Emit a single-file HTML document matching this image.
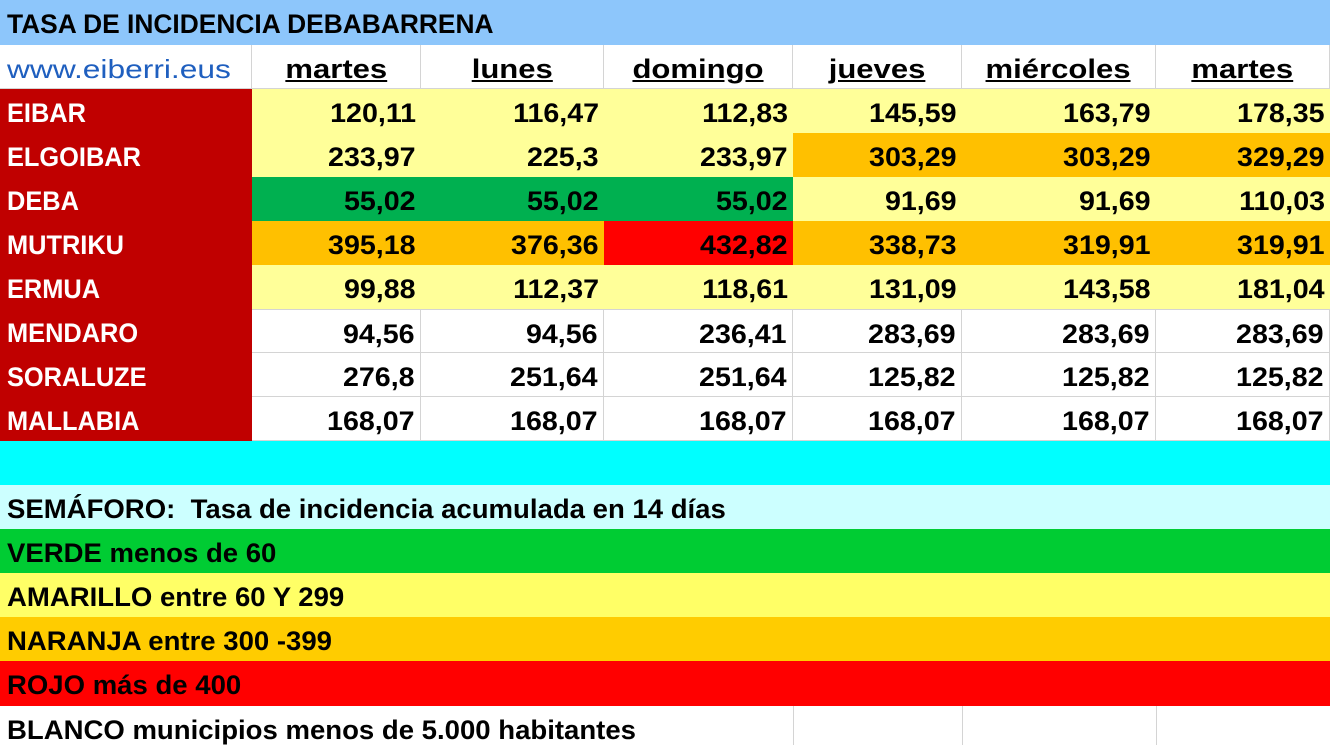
<!DOCTYPE html><html><head><meta charset="utf-8"><style>
body{margin:0;width:1330px;height:745px;overflow:hidden;background:#fff;font-family:"Liberation Sans",sans-serif;font-weight:bold;color:#000}
.c{position:absolute;height:44px;line-height:48px;box-sizing:border-box;font-size:27px;white-space:nowrap}
.r{text-align:right;padding-right:5px}
.r span{display:inline-block;transform:scaleX(1.06);transform-origin:right center}
.l{padding-left:7px}
.l span{display:inline-block;transform:scaleX(.94);transform-origin:left center}
.lg span{transform:scaleX(1.02)}
.m{text-align:center}
.m span{display:inline-block;transform:scaleX(1.15);text-decoration:underline}
.g{border-right:1px solid #d4d4d4;border-bottom:1px solid #d4d4d4}
.n{color:#fff}
</style></head><body>
<div class="c l" style="left:0;top:0;width:1330px;height:45px;line-height:48px;background:#8dc6fb"><span style="transform:scaleX(.976)">TASA DE INCIDENCIA DEBABARRENA</span></div>
<div class="c g" style="left:0;top:45px;width:252px;padding-left:7px;font-weight:normal;color:#1f5fbf;text-decoration:underline;font-size:26px"><span style="display:inline-block;transform:scaleX(1.22);transform-origin:left">www.eiberri.eus</span></div>
<div class="c g m" style="left:252px;top:45px;width:169px"><span>martes</span></div>
<div class="c g m" style="left:421px;top:45px;width:183px"><span>lunes</span></div>
<div class="c g m" style="left:604px;top:45px;width:189px"><span>domingo</span></div>
<div class="c g m" style="left:793px;top:45px;width:169px"><span>jueves</span></div>
<div class="c g m" style="left:962px;top:45px;width:194px"><span>miércoles</span></div>
<div class="c g m" style="left:1156px;top:45px;width:174px"><span>martes</span></div>
<div style="position:absolute;left:0;top:89px;width:252px;height:352px;background:#c00000"></div>
<div class="c l n" style="left:0;top:89px"><span>EIBAR</span></div>
<div class="c l n" style="left:0;top:133px"><span>ELGOIBAR</span></div>
<div class="c l n" style="left:0;top:177px"><span>DEBA</span></div>
<div class="c l n" style="left:0;top:221px"><span>MUTRIKU</span></div>
<div class="c l n" style="left:0;top:265px"><span>ERMUA</span></div>
<div class="c l n" style="left:0;top:309px"><span>MENDARO</span></div>
<div class="c l n" style="left:0;top:353px"><span>SORALUZE</span></div>
<div class="c l n" style="left:0;top:397px"><span>MALLABIA</span></div>
<div class="c r" style="left:252px;top:89px;width:169px;background:#ffff99"><span>120,11</span></div>
<div class="c r" style="left:421px;top:89px;width:183px;background:#ffff99"><span>116,47</span></div>
<div class="c r" style="left:604px;top:89px;width:189px;background:#ffff99"><span>112,83</span></div>
<div class="c r" style="left:793px;top:89px;width:169px;background:#ffff99"><span>145,59</span></div>
<div class="c r" style="left:962px;top:89px;width:194px;background:#ffff99"><span>163,79</span></div>
<div class="c r" style="left:1156px;top:89px;width:174px;background:#ffff99"><span>178,35</span></div>
<div class="c r" style="left:252px;top:133px;width:169px;background:#ffff99"><span>233,97</span></div>
<div class="c r" style="left:421px;top:133px;width:183px;background:#ffff99"><span>225,3</span></div>
<div class="c r" style="left:604px;top:133px;width:189px;background:#ffff99"><span>233,97</span></div>
<div class="c r" style="left:793px;top:133px;width:169px;background:#ffc000"><span>303,29</span></div>
<div class="c r" style="left:962px;top:133px;width:194px;background:#ffc000"><span>303,29</span></div>
<div class="c r" style="left:1156px;top:133px;width:174px;background:#ffc000"><span>329,29</span></div>
<div class="c r" style="left:252px;top:177px;width:169px;background:#00b050"><span>55,02</span></div>
<div class="c r" style="left:421px;top:177px;width:183px;background:#00b050"><span>55,02</span></div>
<div class="c r" style="left:604px;top:177px;width:189px;background:#00b050"><span>55,02</span></div>
<div class="c r" style="left:793px;top:177px;width:169px;background:#ffff99"><span>91,69</span></div>
<div class="c r" style="left:962px;top:177px;width:194px;background:#ffff99"><span>91,69</span></div>
<div class="c r" style="left:1156px;top:177px;width:174px;background:#ffff99"><span>110,03</span></div>
<div class="c r" style="left:252px;top:221px;width:169px;background:#ffc000"><span>395,18</span></div>
<div class="c r" style="left:421px;top:221px;width:183px;background:#ffc000"><span>376,36</span></div>
<div class="c r" style="left:604px;top:221px;width:189px;background:#ff0000"><span>432,82</span></div>
<div class="c r" style="left:793px;top:221px;width:169px;background:#ffc000"><span>338,73</span></div>
<div class="c r" style="left:962px;top:221px;width:194px;background:#ffc000"><span>319,91</span></div>
<div class="c r" style="left:1156px;top:221px;width:174px;background:#ffc000"><span>319,91</span></div>
<div class="c r" style="left:252px;top:265px;width:169px;background:#ffff99"><span>99,88</span></div>
<div class="c r" style="left:421px;top:265px;width:183px;background:#ffff99"><span>112,37</span></div>
<div class="c r" style="left:604px;top:265px;width:189px;background:#ffff99"><span>118,61</span></div>
<div class="c r" style="left:793px;top:265px;width:169px;background:#ffff99"><span>131,09</span></div>
<div class="c r" style="left:962px;top:265px;width:194px;background:#ffff99"><span>143,58</span></div>
<div class="c r" style="left:1156px;top:265px;width:174px;background:#ffff99"><span>181,04</span></div>
<div class="c r g" style="left:252px;top:309px;width:169px;border-top:1px solid #d4d4d4"><span>94,56</span></div>
<div class="c r g" style="left:421px;top:309px;width:183px;border-top:1px solid #d4d4d4"><span>94,56</span></div>
<div class="c r g" style="left:604px;top:309px;width:189px;border-top:1px solid #d4d4d4"><span>236,41</span></div>
<div class="c r g" style="left:793px;top:309px;width:169px;border-top:1px solid #d4d4d4"><span>283,69</span></div>
<div class="c r g" style="left:962px;top:309px;width:194px;border-top:1px solid #d4d4d4"><span>283,69</span></div>
<div class="c r g" style="left:1156px;top:309px;width:174px;border-top:1px solid #d4d4d4"><span>283,69</span></div>
<div class="c r g" style="left:252px;top:353px;width:169px"><span>276,8</span></div>
<div class="c r g" style="left:421px;top:353px;width:183px"><span>251,64</span></div>
<div class="c r g" style="left:604px;top:353px;width:189px"><span>251,64</span></div>
<div class="c r g" style="left:793px;top:353px;width:169px"><span>125,82</span></div>
<div class="c r g" style="left:962px;top:353px;width:194px"><span>125,82</span></div>
<div class="c r g" style="left:1156px;top:353px;width:174px"><span>125,82</span></div>
<div class="c r g" style="left:252px;top:397px;width:169px"><span>168,07</span></div>
<div class="c r g" style="left:421px;top:397px;width:183px"><span>168,07</span></div>
<div class="c r g" style="left:604px;top:397px;width:189px"><span>168,07</span></div>
<div class="c r g" style="left:793px;top:397px;width:169px"><span>168,07</span></div>
<div class="c r g" style="left:962px;top:397px;width:194px"><span>168,07</span></div>
<div class="c r g" style="left:1156px;top:397px;width:174px"><span>168,07</span></div>
<div class="c" style="left:0;top:441px;width:1330px;background:#00ffff"></div>
<div class="c l lg" style="left:0;top:485px;width:1330px;background:#ccffff"><span>SEMÁFORO:&nbsp; Tasa de incidencia acumulada en 14 días</span></div>
<div class="c l lg" style="left:0;top:529px;width:1330px;background:#00cc33"><span>VERDE menos de 60</span></div>
<div class="c l lg" style="left:0;top:573px;width:1330px;background:#ffff66"><span>AMARILLO entre 60 Y 299</span></div>
<div class="c l lg" style="left:0;top:617px;width:1330px;background:#ffcc00"><span>NARANJA entre 300 -399</span></div>
<div class="c l lg" style="left:0;top:661px;width:1330px;height:45px;background:#ff0000"><span>ROJO más de 400</span></div>
<div style="position:absolute;left:793px;top:706px;width:1px;height:39px;background:#d4d4d4"></div>
<div style="position:absolute;left:962px;top:706px;width:1px;height:39px;background:#d4d4d4"></div>
<div style="position:absolute;left:1156px;top:706px;width:1px;height:39px;background:#d4d4d4"></div>
<div class="c l lg" style="left:0;top:706px;width:800px"><span>BLANCO municipios menos de 5.000 habitantes</span></div>
</body></html>
